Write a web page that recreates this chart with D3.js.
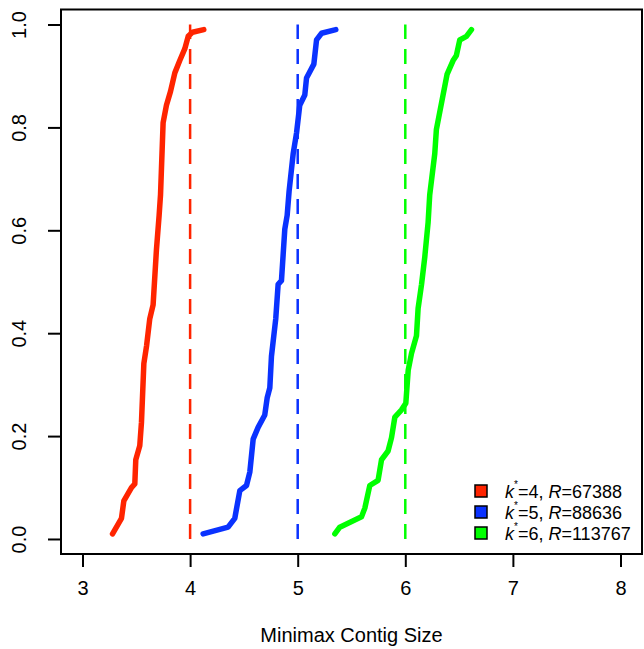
<!DOCTYPE html>
<html>
<head>
<meta charset="utf-8">
<script src="https://cdn.jsdelivr.net/npm/d3@7"></script>
<style>
  body { margin: 0; background: #fff; }
  text { font-family: "Liberation Sans", Arial, sans-serif; fill: #000; }
</style>
</head>
<body>
<div id="chart"></div>
<script>
// data (minimax contig size vs cumulative fraction)
var redX = [3.279, 3.362, 3.384, 3.455, 3.486, 3.495, 3.532, 3.548, 3.570, 3.595, 3.625, 3.656, 3.687, 3.712, 3.725, 3.749, 3.780, 3.818, 3.858, 3.904, 3.951, 3.982, 4.022, 4.127];
var redY = [0.010, 0.040, 0.074, 0.100, 0.107, 0.154, 0.181, 0.227, 0.341, 0.375, 0.428, 0.455, 0.562, 0.629, 0.669, 0.809, 0.843, 0.870, 0.906, 0.930, 0.953, 0.977, 0.985, 0.990];
var blueX = [4.121, 4.353, 4.415, 4.462, 4.524, 4.555, 4.586, 4.632, 4.694, 4.716, 4.741, 4.756, 4.796, 4.818, 4.849, 4.880, 4.902, 4.920, 4.958, 4.989, 5.019, 5.066, 5.082, 5.150, 5.175, 5.221, 5.354];
var blueY = [0.010, 0.023, 0.040, 0.094, 0.104, 0.130, 0.194, 0.217, 0.241, 0.274, 0.294, 0.355, 0.428, 0.495, 0.502, 0.602, 0.629, 0.676, 0.749, 0.789, 0.843, 0.863, 0.896, 0.923, 0.970, 0.983, 0.990];
var greenX = [5.345, 5.391, 5.593, 5.624, 5.670, 5.747, 5.779, 5.840, 5.872, 5.903, 5.965, 6.005, 6.027, 6.058, 6.104, 6.119, 6.151, 6.181, 6.212, 6.227, 6.274, 6.289, 6.351, 6.388, 6.444, 6.475, 6.506, 6.568, 6.615];
var greenY = [0.010, 0.023, 0.043, 0.060, 0.104, 0.114, 0.154, 0.171, 0.197, 0.237, 0.251, 0.264, 0.328, 0.361, 0.395, 0.448, 0.495, 0.548, 0.615, 0.669, 0.749, 0.796, 0.863, 0.903, 0.930, 0.940, 0.970, 0.977, 0.990];

var kStar = [4, 5, 6];
var rValues = [67388, 88636, 113767];
var xTicks = [3, 4, 5, 6, 7, 8];
var yTicks = [0, 0.2, 0.4, 0.6, 0.8, 1.0];
var colors = ["#ff2400", "#0a32ff", "#00ff00"];

var width = 644, height = 649;
var box = {left: 61, right: 642, top: 9.5, bottom: 554};

var svg = d3.select("#chart").append("svg")
    .attr("width", width)
    .attr("height", height);

// R style: range padded by 4%
var x = d3.scaleLinear().domain([2.8, 8.2]).range([box.left, box.right]);
var y = d3.scaleLinear().domain([-0.0292, 1.0292]).range([box.bottom, box.top]);

// plot frame
svg.append("rect")
    .attr("x", box.left).attr("y", box.top)
    .attr("width", box.right - box.left).attr("height", box.bottom - box.top)
    .attr("fill", "none").attr("stroke", "#000").attr("stroke-width", 2);

// axes
var xAxis = d3.axisBottom(x).tickValues(xTicks).tickSize(13).tickPadding(8).tickFormat(d3.format("d"));
var gx = svg.append("g").attr("transform", "translate(0," + box.bottom + ")").call(xAxis);
gx.select(".domain").remove();
gx.selectAll(".tick line").attr("stroke-width", 2);
gx.selectAll(".tick text").attr("font-size", 20).attr("font-family", "Liberation Sans, Arial, sans-serif").attr("dy", "1.0em");

var yAxis = d3.axisLeft(y).tickValues(yTicks).tickSize(13).tickFormat(d3.format(".1f"));
var gy = svg.append("g").attr("transform", "translate(" + box.left + ",0)").call(yAxis);
gy.select(".domain").remove();
gy.selectAll(".tick line").attr("stroke-width", 2);
gy.selectAll(".tick text")
    .attr("font-size", 20).attr("font-family", "Liberation Sans, Arial, sans-serif")
    .attr("text-anchor", "middle")
    .attr("x", 0).attr("dy", 0)
    .attr("transform", "translate(-35,0) rotate(-90)");

svg.append("text")
    .attr("x", (box.left + box.right) / 2)
    .attr("y", 642)
    .attr("text-anchor", "middle")
    .attr("font-size", 20)
    .text("Minimax Contig Size");

// vertical reference lines at k*
svg.append("g").selectAll("line")
    .data(kStar)
    .enter().append("line")
    .attr("x1", function(d) { return x(d); })
    .attr("x2", function(d) { return x(d); })
    .attr("y1", y(0)).attr("y2", y(1))
    .attr("stroke", function(d, i) { return colors[i]; })
    .attr("stroke-width", 2.5)
    .attr("stroke-dasharray", "15,10");

// curves
var series = [d3.zip(redX, redY), d3.zip(blueX, blueY), d3.zip(greenX, greenY)];
var line = d3.line()
    .x(function(d) { return x(d[0]); })
    .y(function(d) { return y(d[1]); });

svg.append("g").selectAll("path")
    .data(series)
    .enter().append("path")
    .attr("d", line)
    .attr("fill", "none")
    .attr("stroke", function(d, i) { return colors[i]; })
    .attr("stroke-width", 5.5)
    .attr("stroke-linecap", "round")
    .attr("stroke-linejoin", "round");

// legend
var leg = svg.append("g").selectAll("g")
    .data(kStar)
    .enter().append("g")
    .attr("transform", function(d, i) { return "translate(481," + (491 + i * 21) + ")"; });

leg.append("rect")
    .attr("x", -6).attr("y", -6).attr("width", 12).attr("height", 12)
    .attr("fill", function(d, i) { return colors[i]; })
    .attr("stroke", "#000").attr("stroke-width", 1.5);

var lt = leg.append("text")
    .attr("x", 24).attr("y", 6.5)
    .attr("font-size", 18);
lt.append("tspan").attr("font-style", "italic").text("k");
lt.append("tspan").attr("font-size", 10).attr("dy", -10).text("*");
lt.append("tspan").attr("dy", 10).text(function(d) { return "=" + d + ", "; });
lt.append("tspan").attr("font-style", "italic").text("R");
lt.append("tspan").text(function(d, i) { return "=" + rValues[i]; });
</script>
</body>
</html>
